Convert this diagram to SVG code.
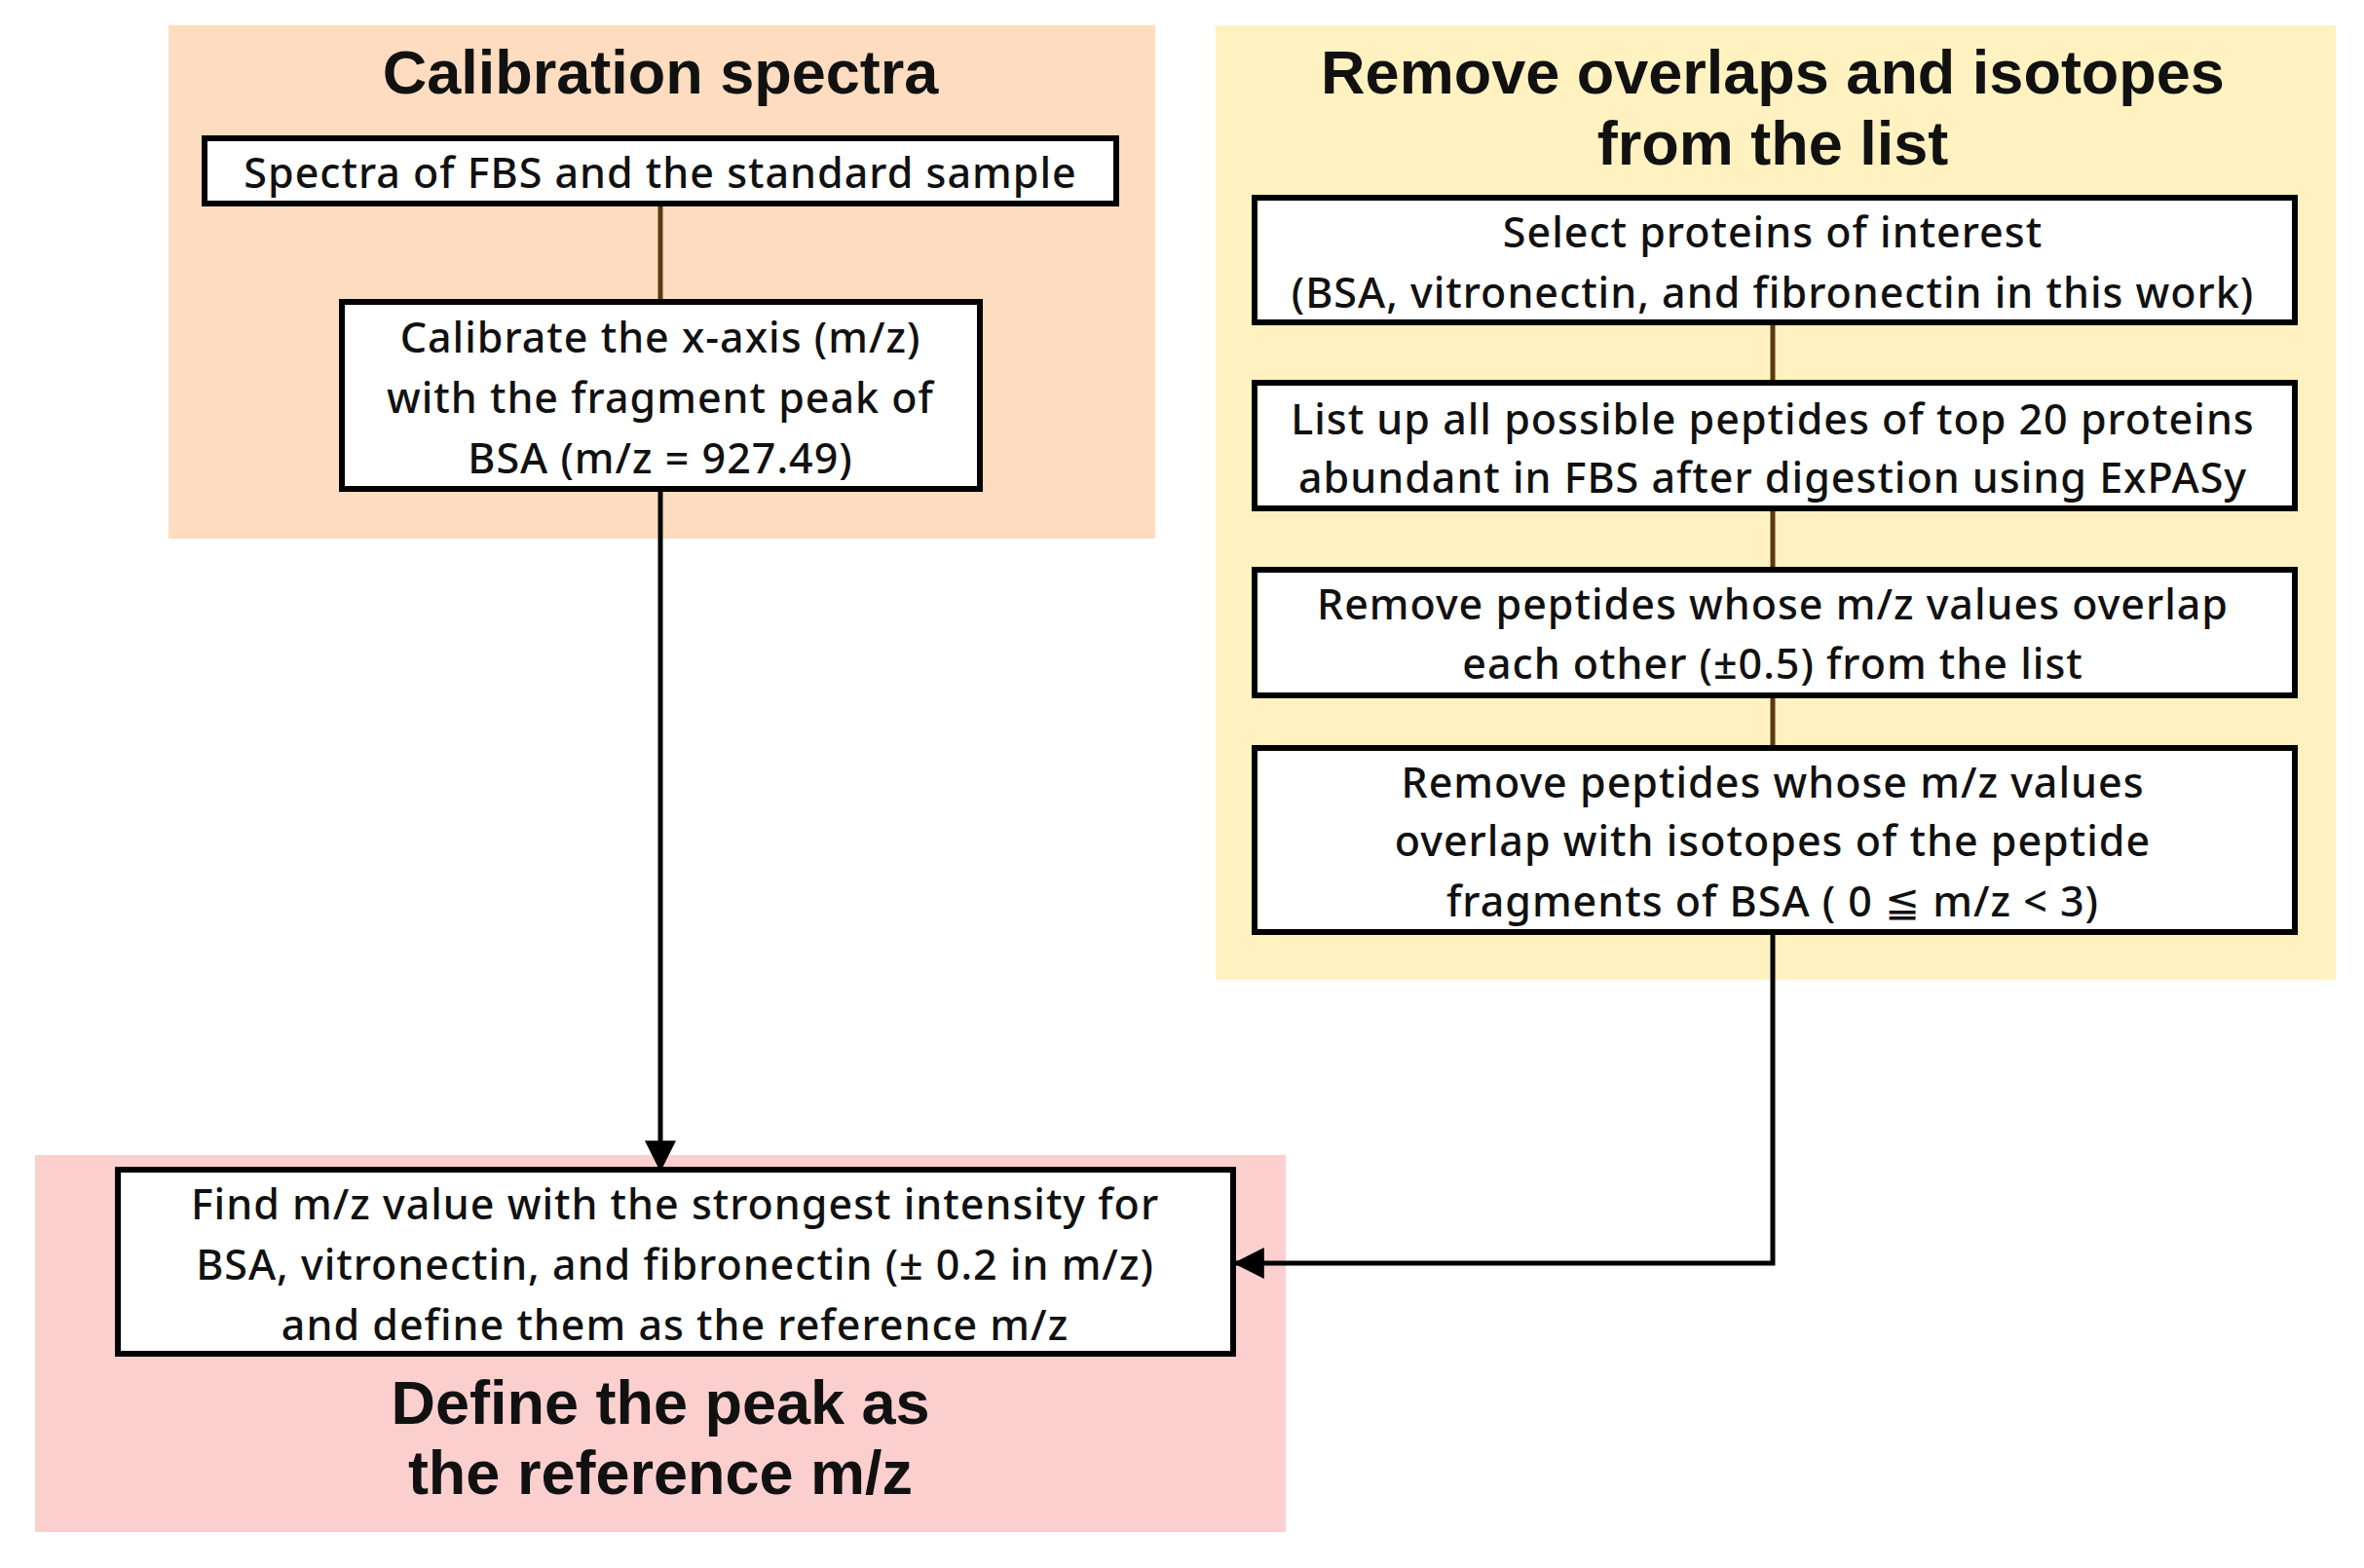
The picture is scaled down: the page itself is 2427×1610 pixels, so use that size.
<svg xmlns="http://www.w3.org/2000/svg" width="2427" height="1610" viewBox="0 0 2427 1610">
<style>
.b{fill:#fff;stroke:#000;stroke-width:6}
.t{font-family:"Noto Sans","Open Sans",sans-serif;font-size:43px;font-weight:500;letter-spacing:1px;text-anchor:middle;dominant-baseline:central;fill:#111}
.h{font-family:"Liberation Sans",Arial,sans-serif;font-weight:bold;font-size:63px;text-anchor:middle;dominant-baseline:central;fill:#111}
.c{stroke:#5a3a12;stroke-width:5;fill:none}
</style>
<defs>
<marker id="ar2" viewBox="0 0 10 10" refX="9" refY="5" markerWidth="32" markerHeight="32" markerUnits="userSpaceOnUse" orient="auto"><path d="M0,0 L10,5 L0,10 Z" fill="#000"/></marker></defs>
<rect x="173" y="26" width="1013" height="527" fill="#fddcbf"/>
<rect x="1248" y="26" width="1150" height="980" fill="#fff2c0"/>
<rect x="36" y="1186" width="1284" height="387" fill="#fccfcf"/>
<g id="connectors">
<line class="c" x1="678" y1="209" x2="678" y2="310"/>
<line class="c" x1="1820" y1="331" x2="1820" y2="393"/>
<line class="c" x1="1820" y1="522" x2="1820" y2="585"/>
<line class="c" x1="1820" y1="714" x2="1820" y2="768"/>
<line stroke="#000" stroke-width="5" x1="678" y1="502" x2="678" y2="1200" marker-end="url(#ar2)"/>
<polyline stroke="#000" stroke-width="5" fill="none" points="1820,957 1820,1297 1269,1297" marker-end="url(#ar2)"/>
</g>
<g id="title1"><text class="h" x="678" y="74">Calibration spectra</text></g>
<g id="title2"><text class="h" x="1820" y="74">Remove overlaps and isotopes</text><text class="h" x="1820" y="147">from the list</text></g>
<g id="title3"><text class="h" x="678" y="1440">Define the peak as</text><text class="h" x="678" y="1512">the reference m/z</text></g>
<g id="n1"><rect class="b" x="210" y="142" width="936" height="67"/><text class="t" x="678" y="176">Spectra of FBS and the standard sample</text></g>
<g id="n2"><rect class="b" x="351" y="310" width="655" height="192"/><text class="t" x="678" y="345">Calibrate the x-axis (m/z)</text><text class="t" x="678" y="407">with the fragment peak of</text><text class="t" x="678" y="469">BSA (m/z = 927.49)</text></g>
<g id="r1"><rect class="b" x="1288" y="203" width="1068" height="128"/><text class="t" x="1820" y="237">Select proteins of interest</text><text class="t" x="1820" y="299">(BSA, vitronectin, and fibronectin in this work)</text></g>
<g id="r2"><rect class="b" x="1288" y="393" width="1068" height="129"/><text class="t" x="1820" y="429">List up all possible peptides of top 20 proteins</text><text class="t" x="1820" y="489">abundant in FBS after digestion using ExPASy</text></g>
<g id="r3"><rect class="b" x="1288" y="585" width="1068" height="129"/><text class="t" x="1820" y="619">Remove peptides whose m/z values overlap</text><text class="t" x="1820" y="680">each other (±0.5) from the list</text></g>
<g id="r4"><rect class="b" x="1288" y="768" width="1068" height="189"/><text class="t" x="1820" y="802">Remove peptides whose m/z values</text><text class="t" x="1820" y="862">overlap with isotopes of the peptide</text><text class="t" x="1820" y="924">fragments of BSA ( 0 ≦ m/z &lt; 3)</text></g>
<g id="n3"><rect class="b" x="121" y="1201" width="1145" height="189"/><text class="t" x="693" y="1235">Find m/z value with the strongest intensity for</text><text class="t" x="693" y="1297">BSA, vitronectin, and fibronectin (± 0.2 in m/z)</text><text class="t" x="693" y="1359">and define them as the reference m/z</text></g>
</svg>
